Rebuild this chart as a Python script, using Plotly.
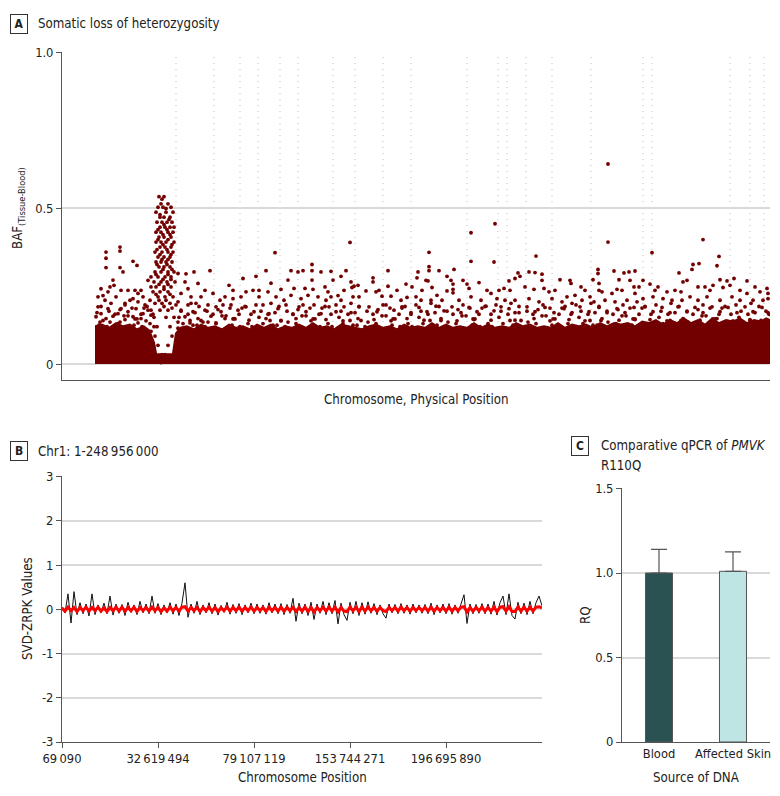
import plotly.graph_objects as go

# ---------------- Panel A data: BAF (Tissue - Blood) ----------------
# x: genomic marker index (arbitrary units along the genome), y: BAF difference
chrom_bounds = [114, 152, 178, 196, 218, 236, 271, 293, 321, 349, 405, 436, 445,
                464, 490, 529, 581, 590, 668, 688, 702]

# upper edge of the saturated band of points near zero
band_x = [33, 40, 47, 54, 61, 68, 75, 82, 88, 93, 95, 110, 113, 118, 125, 132, 139,
          146, 153, 160, 167, 174, 181, 188, 195, 202, 209, 216, 223, 230, 237, 244,
          251, 258, 265, 272, 279, 286, 293, 300, 307, 314, 321, 328, 335, 342, 349,
          356, 363, 370, 377, 384, 391, 398, 405, 412, 419, 426, 433, 440, 447, 454,
          461, 468, 475, 482, 489, 496, 503, 510, 517, 524, 531, 538, 545, 552, 559,
          566, 573, 580, 587, 594, 601, 608, 615, 622, 629, 636, 643, 650, 657, 664,
          671, 678, 685, 692, 699, 704, 708]
band_top = [0.125, 0.13, 0.12, 0.135, 0.125, 0.13, 0.115, 0.125, 0.11, 0.07, 0.035,
            0.035, 0.10, 0.12, 0.125, 0.115, 0.13, 0.12, 0.125, 0.115, 0.13, 0.12,
            0.125, 0.115, 0.13, 0.12, 0.13, 0.115, 0.125, 0.12, 0.13, 0.12, 0.135,
            0.12, 0.125, 0.115, 0.13, 0.125, 0.12, 0.115, 0.125, 0.13, 0.12, 0.125,
            0.115, 0.13, 0.12, 0.125, 0.12, 0.135, 0.12, 0.13, 0.12, 0.125, 0.12,
            0.135, 0.12, 0.13, 0.12, 0.125, 0.12, 0.135, 0.125, 0.13, 0.12, 0.125,
            0.12, 0.135, 0.12, 0.13, 0.125, 0.13, 0.12, 0.135, 0.125, 0.135, 0.13,
            0.135, 0.125, 0.14, 0.135, 0.145, 0.13, 0.145, 0.135, 0.15, 0.135, 0.145,
            0.13, 0.15, 0.135, 0.145, 0.14, 0.15, 0.135, 0.145, 0.14, 0.15, 0.145]

# loss-of-heterozygosity cluster on chromosome 1
loh_pts = [
    (97, 0.538), (102, 0.538), (106, 0.515), (99, 0.515), (109, 0.504), (101, 0.504),
    (96, 0.504), (104, 0.488), (111, 0.488), (94, 0.488), (98, 0.472), (108, 0.472),
    (102, 0.472), (95, 0.456), (100, 0.456), (105, 0.456), (110, 0.456), (98, 0.44),
    (103, 0.44), (108, 0.44), (112, 0.44), (94, 0.424), (99, 0.424), (106, 0.424),
    (111, 0.424), (97, 0.408), (102, 0.408), (109, 0.408), (94, 0.392), (99, 0.392),
    (104, 0.392), (112, 0.392), (98, 0.376), (103, 0.376), (109, 0.376), (93, 0.36),
    (100, 0.36), (106, 0.36), (111, 0.36), (96, 0.344), (102, 0.344), (108, 0.344),
    (94, 0.328), (99, 0.328), (104, 0.328), (110, 0.328), (97, 0.312), (102, 0.312),
    (108, 0.312), (93, 0.296), (99, 0.296), (106, 0.296), (112, 0.296), (89, 0.28),
    (96, 0.28), (103, 0.28), (109, 0.28), (92, 0.264), (99, 0.264), (105, 0.264),
    (113, 0.264), (94, 0.248), (102, 0.248), (109, 0.248), (91, 0.232), (98, 0.232),
    (106, 0.232), (96, 0.216), (103, 0.216), (111, 0.216), (93, 0.195), (100, 0.195),
    (108, 0.195), (89, 0.173), (98, 0.173), (106, 0.173), (92, 0.15), (104, 0.15),
    (112, 0.15), (95, 0.12), (108, 0.12), (93, 0.09), (110, 0.09), (96, 0.06),
    (106, 0.06), (100, 0.03), (103, 0.03), (98, 0.02), (105, 0.02), (97, 0.01),
    (101, 0.01), (104, 0.01), (99, 0.005),
    (100, 0.53), (104, 0.5), (98, 0.48), (107, 0.465), (102, 0.448), (96, 0.432),
    (105, 0.432), (101, 0.416), (108, 0.416), (96, 0.4), (106, 0.4), (101, 0.384),
    (110, 0.384), (95, 0.368), (105, 0.368), (98, 0.352), (109, 0.352), (100, 0.336),
    (106, 0.336), (95, 0.32), (105, 0.32), (101, 0.304), (110, 0.304), (94, 0.288),
    (106, 0.288), (101, 0.272), (109, 0.272), (97, 0.256), (106, 0.256), (102, 0.24),
    (94, 0.224), (108, 0.224), (97, 0.205), (104, 0.205), (102, 0.185), (110, 0.18),
]

# scattered points above the dense band across the genome
baf_pts = [
    (44, 0.36), (44, 0.34), (58, 0.376), (58, 0.363), (71, 0.33), (75, 0.317),
    (44, 0.31), (58, 0.31), (61, 0.296), (51, 0.27), (52, 0.253), (39, 0.242),
    (36, 0.216), (41, 0.22), (48, 0.248), (46, 0.232), (59, 0.237), (66, 0.237),
    (73, 0.237), (76, 0.227), (79, 0.237), (81, 0.216), (86, 0.269), (89, 0.248),
    (68, 0.205), (54, 0.216), (43, 0.205), (49, 0.195), (63, 0.195), (71, 0.21),
    (76, 0.2), (83, 0.19), (88, 0.205), (59, 0.178), (46, 0.178), (36, 0.184),
    (39, 0.162), (56, 0.162), (66, 0.168), (74, 0.178), (81, 0.162), (86, 0.173),
    (89, 0.157), (34, 0.152), (44, 0.146), (51, 0.154), (63, 0.143), (71, 0.152),
    (79, 0.146), (38, 0.135), (58, 0.135), (76, 0.132), (84, 0.139),
    (116, 0.291), (124, 0.29), (132, 0.296), (148, 0.30), (123, 0.264), (126, 0.242),
    (136, 0.259), (143, 0.237), (119, 0.227), (129, 0.216), (139, 0.216), (151, 0.227),
    (158, 0.205), (163, 0.216), (116, 0.2), (126, 0.19), (134, 0.195), (146, 0.19),
    (154, 0.184), (119, 0.173), (131, 0.168), (143, 0.173), (159, 0.168), (123, 0.152),
    (136, 0.146), (149, 0.154), (163, 0.146), (116, 0.135), (128, 0.132), (141, 0.135),
    (154, 0.132),
    (213, 0.358), (288, 0.391), (250, 0.32), (250, 0.30), (250, 0.27), (229, 0.30),
    (241, 0.30), (236, 0.296), (204, 0.30), (259, 0.296), (269, 0.298), (279, 0.282),
    (284, 0.30), (289, 0.264), (292, 0.25), (181, 0.275), (194, 0.282), (226, 0.27),
    (271, 0.27), (167, 0.253), (171, 0.237), (171, 0.21), (197, 0.237), (209, 0.26),
    (219, 0.24), (232, 0.243), (243, 0.243), (251, 0.24), (263, 0.248), (266, 0.232),
    (269, 0.216), (276, 0.22), (282, 0.237), (290, 0.246), (296, 0.253), (179, 0.216),
    (184, 0.232), (191, 0.237), (197, 0.216), (206, 0.232), (214, 0.216), (222, 0.205),
    (229, 0.221), (239, 0.21), (246, 0.221), (256, 0.216), (264, 0.205), (279, 0.205),
    (291, 0.216), (297, 0.216), (169, 0.19), (176, 0.173), (184, 0.184), (192, 0.168),
    (201, 0.19), (207, 0.162), (216, 0.178), (224, 0.19), (231, 0.16), (237, 0.184),
    (244, 0.168), (252, 0.19), (259, 0.162), (267, 0.184), (274, 0.168), (282, 0.184),
    (289, 0.165), (297, 0.184), (172, 0.146), (187, 0.141), (204, 0.146), (219, 0.139),
    (234, 0.146), (249, 0.139), (264, 0.143), (281, 0.139), (296, 0.146),
    (409, 0.422), (433, 0.451), (409, 0.33), (432, 0.328), (367, 0.359), (367, 0.313),
    (367, 0.30), (326, 0.30), (356, 0.296), (377, 0.30), (392, 0.304), (385, 0.282),
    (311, 0.277), (311, 0.264), (314, 0.232), (326, 0.25), (335, 0.237), (344, 0.257),
    (350, 0.248), (355, 0.277), (360, 0.237), (364, 0.269), (366, 0.267), (370, 0.246),
    (375, 0.221), (389, 0.269), (391, 0.257), (391, 0.24), (391, 0.229), (385, 0.235),
    (401, 0.269), (405, 0.257), (407, 0.243), (417, 0.262), (425, 0.237), (429, 0.227),
    (437, 0.237), (304, 0.235), (317, 0.237), (320, 0.218), (329, 0.218), (339, 0.205),
    (345, 0.214), (354, 0.216), (359, 0.205), (369, 0.205), (380, 0.205), (397, 0.205),
    (409, 0.216), (419, 0.205), (435, 0.21), (307, 0.184), (315, 0.168), (324, 0.19),
    (332, 0.173), (340, 0.184), (349, 0.165), (357, 0.182), (365, 0.168), (374, 0.186),
    (382, 0.171), (390, 0.184), (399, 0.165), (407, 0.182), (415, 0.168), (424, 0.186),
    (432, 0.171), (439, 0.184), (312, 0.143), (329, 0.139), (345, 0.146), (362, 0.141),
    (379, 0.146), (395, 0.139), (412, 0.143), (429, 0.141),
    (546, 0.643), (546, 0.392), (474, 0.347), (536, 0.304), (536, 0.291), (552, 0.299),
    (456, 0.293), (467, 0.296), (473, 0.294), (480, 0.289), (480, 0.269), (447, 0.267),
    (453, 0.275), (458, 0.282), (498, 0.271), (508, 0.269), (509, 0.259), (519, 0.248),
    (531, 0.271), (537, 0.259), (537, 0.237), (557, 0.271), (562, 0.293), (567, 0.296),
    (573, 0.299), (568, 0.269), (572, 0.248), (577, 0.248), (442, 0.243), (448, 0.237),
    (463, 0.248), (472, 0.24), (482, 0.243), (487, 0.232), (493, 0.237), (505, 0.216),
    (513, 0.221), (523, 0.237), (528, 0.216), (540, 0.232), (550, 0.227), (555, 0.24),
    (560, 0.237), (573, 0.227), (443, 0.205), (453, 0.205), (467, 0.21), (477, 0.2),
    (490, 0.21), (500, 0.2), (510, 0.195), (520, 0.205), (532, 0.2), (543, 0.205),
    (553, 0.2), (565, 0.205), (575, 0.2), (447, 0.178), (457, 0.165), (465, 0.184),
    (473, 0.168), (483, 0.182), (492, 0.165), (502, 0.178), (510, 0.165), (518, 0.184),
    (527, 0.168), (537, 0.182), (545, 0.165), (555, 0.178), (563, 0.165), (572, 0.182),
    (453, 0.141), (472, 0.146), (488, 0.139), (507, 0.143), (523, 0.139), (540, 0.146),
    (557, 0.141), (573, 0.143),
    (641, 0.40), (590, 0.358), (657, 0.346), (631, 0.32), (637, 0.323), (630, 0.304),
    (655, 0.316), (617, 0.293), (625, 0.269), (621, 0.264), (581, 0.269), (588, 0.257),
    (596, 0.248), (593, 0.237), (658, 0.271), (665, 0.267), (672, 0.275), (668, 0.253),
    (661, 0.246), (685, 0.267), (693, 0.248), (705, 0.243), (706, 0.227), (605, 0.232),
    (613, 0.237), (619, 0.232), (636, 0.248), (643, 0.248), (648, 0.237), (651, 0.253),
    (678, 0.237), (685, 0.227), (698, 0.232), (581, 0.21), (591, 0.216), (601, 0.21),
    (610, 0.205), (620, 0.205), (628, 0.216), (636, 0.205), (645, 0.216), (658, 0.205),
    (670, 0.216), (678, 0.205), (691, 0.205), (701, 0.205), (706, 0.21), (583, 0.184),
    (591, 0.168), (600, 0.182), (608, 0.165), (616, 0.184), (625, 0.168), (633, 0.182),
    (641, 0.165), (650, 0.184), (658, 0.168), (666, 0.182), (675, 0.165), (683, 0.184),
    (691, 0.168), (700, 0.182), (706, 0.165), (588, 0.143), (605, 0.139), (621, 0.146),
    (638, 0.141), (655, 0.146), (671, 0.139), (688, 0.143), (705, 0.141),
]

# medium-density points just above the saturated band
baf_mid = [
    (35, 0.165), (37, 0.125), (39, 0.185), (41, 0.14), (43, 0.11),
    (45, 0.12), (47, 0.17), (48, 0.135), (51, 0.105), (53, 0.16),
    (56, 0.13), (58, 0.175), (60, 0.105), (62, 0.155), (63, 0.19),
    (66, 0.155), (67, 0.11), (70, 0.18), (72, 0.125), (73, 0.145),
    (75, 0.145), (77, 0.10), (79, 0.16), (80, 0.12), (82, 0.18),
    (85, 0.185), (88, 0.13), (89, 0.105), (91, 0.16), (92, 0.12),
    (114, 0.19), (116, 0.115), (117, 0.15), (119, 0.17), (121, 0.13),
    (124, 0.11), (126, 0.16), (128, 0.14), (129, 0.195), (131, 0.125),
    (133, 0.165), (135, 0.125), (137, 0.185), (139, 0.14), (141, 0.11),
    (143, 0.12), (145, 0.17), (146, 0.135), (149, 0.105), (151, 0.16),
    (154, 0.13), (156, 0.175), (158, 0.105), (160, 0.155), (161, 0.19),
    (164, 0.155), (165, 0.11), (168, 0.18), (170, 0.125), (171, 0.145),
    (173, 0.145), (175, 0.10), (177, 0.16), (178, 0.12), (180, 0.18),
    (183, 0.185), (186, 0.13), (187, 0.105), (189, 0.16), (190, 0.12),
    (194, 0.19), (196, 0.115), (197, 0.15), (199, 0.17), (201, 0.13),
    (204, 0.11), (206, 0.16), (208, 0.14), (209, 0.195), (211, 0.125),
    (213, 0.165), (215, 0.125), (217, 0.185), (219, 0.14), (221, 0.11),
    (223, 0.12), (225, 0.17), (226, 0.135), (229, 0.105), (231, 0.16),
    (234, 0.13), (236, 0.175), (238, 0.105), (240, 0.155), (241, 0.19),
    (244, 0.155), (245, 0.11), (248, 0.18), (250, 0.125), (251, 0.145),
    (253, 0.145), (255, 0.10), (257, 0.16), (258, 0.12), (260, 0.18),
    (263, 0.185), (266, 0.13), (267, 0.105), (269, 0.16), (270, 0.12),
    (274, 0.19), (276, 0.115), (277, 0.15), (279, 0.17), (281, 0.13),
    (284, 0.11), (286, 0.16), (288, 0.14), (289, 0.195), (291, 0.125),
    (293, 0.165), (295, 0.125), (297, 0.185), (299, 0.14), (301, 0.11),
    (303, 0.12), (305, 0.17), (306, 0.135), (309, 0.105), (311, 0.16),
    (314, 0.13), (316, 0.175), (318, 0.105), (320, 0.155), (321, 0.19),
    (324, 0.155), (325, 0.11), (328, 0.18), (330, 0.125), (331, 0.145),
    (333, 0.145), (335, 0.10), (337, 0.16), (338, 0.12), (340, 0.18),
    (343, 0.185), (346, 0.13), (347, 0.105), (349, 0.16), (350, 0.12),
    (354, 0.19), (356, 0.115), (357, 0.15), (359, 0.17), (361, 0.13),
    (364, 0.11), (366, 0.16), (368, 0.14), (369, 0.195), (371, 0.125),
    (373, 0.165), (375, 0.125), (377, 0.185), (379, 0.14), (381, 0.11),
    (383, 0.12), (385, 0.17), (386, 0.135), (389, 0.105), (391, 0.16),
    (394, 0.13), (396, 0.175), (398, 0.105), (400, 0.155), (401, 0.19),
    (404, 0.155), (405, 0.11), (408, 0.18), (410, 0.125), (411, 0.145),
    (413, 0.145), (415, 0.10), (417, 0.16), (418, 0.12), (420, 0.18),
    (423, 0.185), (426, 0.13), (427, 0.105), (429, 0.16), (430, 0.12),
    (434, 0.19), (436, 0.115), (437, 0.15), (439, 0.17), (441, 0.13),
    (444, 0.11), (446, 0.16), (448, 0.14), (449, 0.195), (451, 0.125),
    (453, 0.165), (455, 0.125), (457, 0.185), (459, 0.14), (461, 0.11),
    (463, 0.12), (465, 0.17), (466, 0.135), (469, 0.105), (471, 0.16),
    (474, 0.13), (476, 0.175), (478, 0.105), (480, 0.155), (481, 0.19),
    (484, 0.155), (485, 0.11), (488, 0.18), (490, 0.125), (491, 0.145),
    (493, 0.145), (495, 0.10), (497, 0.16), (498, 0.12), (500, 0.18),
    (503, 0.185), (506, 0.13), (507, 0.105), (509, 0.16), (510, 0.12),
    (514, 0.19), (516, 0.115), (517, 0.15), (519, 0.17), (521, 0.13),
    (524, 0.11), (526, 0.16), (528, 0.14), (529, 0.195), (531, 0.125),
    (533, 0.165), (535, 0.125), (537, 0.185), (539, 0.14), (541, 0.11),
    (543, 0.12), (545, 0.17), (546, 0.135), (549, 0.105), (551, 0.16),
    (554, 0.13), (556, 0.175), (558, 0.105), (560, 0.155), (561, 0.19),
    (564, 0.155), (565, 0.11), (568, 0.18), (570, 0.125), (571, 0.145),
    (573, 0.145), (575, 0.10), (577, 0.16), (578, 0.12), (580, 0.18),
    (583, 0.185), (586, 0.13), (587, 0.105), (589, 0.16), (590, 0.12),
    (594, 0.19), (596, 0.115), (597, 0.15), (599, 0.17), (601, 0.13),
    (604, 0.11), (606, 0.16), (608, 0.14), (609, 0.195), (611, 0.125),
    (613, 0.165), (615, 0.125), (617, 0.185), (619, 0.14), (621, 0.11),
    (623, 0.12), (625, 0.17), (626, 0.135), (629, 0.105), (631, 0.16),
    (634, 0.13), (636, 0.175), (638, 0.105), (640, 0.155), (641, 0.19),
    (644, 0.155), (645, 0.11), (648, 0.18), (650, 0.125), (651, 0.145),
    (653, 0.145), (655, 0.10), (657, 0.16), (658, 0.12), (660, 0.18),
    (663, 0.185), (666, 0.13), (667, 0.105), (669, 0.16), (670, 0.12),
    (674, 0.19), (676, 0.115), (677, 0.15), (679, 0.17), (681, 0.13),
    (684, 0.11), (686, 0.16), (688, 0.14), (689, 0.195), (691, 0.125),
    (693, 0.165), (695, 0.125), (697, 0.185), (699, 0.14), (701, 0.11),
    (702, 0.12), (704, 0.17), (705, 0.135), (706, 0.105), (707, 0.16),
]

# ---------------- Panel B data: SVD-ZRPK along chromosome 1 ----------------
zrpk_black = [
    0.05, -0.08, 0.35, -0.31, 0.40, -0.12, 0.15, -0.10, 0.12, -0.15,
    0.35, -0.12, 0.10, -0.08, 0.14, -0.10, 0.30, -0.13, 0.12, -0.09,
    0.11, -0.14, 0.16, -0.07, 0.10, -0.12, 0.18, -0.08, 0.12, -0.10,
    0.30, -0.09, 0.13, -0.12, 0.10, -0.08, 0.15, -0.11, 0.12, -0.14,
    0.14, 0.60, -0.18, 0.12, -0.09, 0.18, -0.12, 0.10, -0.08, 0.15,
    -0.10, 0.12, -0.13, 0.09, -0.07, 0.16, -0.11, 0.11, -0.09, 0.13,
    -0.12, 0.10, -0.08, 0.14, -0.10, 0.12, -0.09, 0.10, -0.11, 0.15,
    -0.08, 0.12, -0.10, 0.13, -0.12, 0.11, -0.09, 0.25, -0.27, 0.14,
    -0.10, 0.12, -0.14, 0.16, -0.23, 0.12, -0.09, 0.18, -0.12, 0.15,
    -0.10, 0.20, -0.33, 0.14, -0.12, -0.25, 0.16, -0.10, 0.18, -0.14,
    0.15, -0.11, 0.17, -0.09, 0.13, -0.12, 0.10, -0.10, -0.20, 0.12,
    -0.08, 0.11, -0.10, 0.13, -0.09, 0.10, -0.11, 0.12, -0.08, 0.10,
    -0.09, 0.11, -0.10, 0.14, -0.12, 0.10, -0.08, 0.12, -0.10, 0.13,
    -0.11, 0.10, -0.09, 0.15, 0.33, -0.32, 0.12, -0.10, 0.11, -0.09,
    0.13, -0.10, 0.12, -0.11, 0.18, -0.13, 0.15, 0.30, -0.12, 0.35,
    -0.14, -0.22, 0.16, -0.10, 0.14, -0.12, 0.18, -0.10, 0.15, 0.30, 0.08,
]
zrpk_red = [
    0.03, -0.04, 0.05, -0.03, 0.04, -0.05, 0.04, -0.03, 0.05, -0.04,
    0.04, -0.03, 0.05, -0.04, 0.03, -0.05, 0.04, -0.03, 0.05, -0.04,
    0.05, -0.04, 0.04, -0.03, 0.05, -0.05, 0.04, -0.03, 0.04, -0.04,
    0.05, -0.03, 0.04, -0.05, 0.03, -0.04, 0.05, -0.03, 0.04, -0.04,
    0.05, 0.06, -0.04, 0.04, -0.03, 0.05, -0.05, 0.04, -0.03, 0.05,
    -0.04, 0.04, -0.05, 0.03, -0.03, 0.05, -0.04, 0.04, -0.03, 0.05,
    -0.04, 0.04, -0.03, 0.05, -0.04, 0.04, -0.03, 0.04, -0.05, 0.05,
    -0.03, 0.04, -0.04, 0.05, -0.04, 0.04, -0.03, 0.05, -0.05, 0.04,
    -0.04, 0.05, -0.05, 0.04, -0.06, 0.04, -0.03, 0.05, -0.04, 0.05,
    -0.04, 0.05, -0.06, 0.04, -0.04, -0.05, 0.05, -0.03, 0.05, -0.05,
    0.05, -0.04, 0.05, -0.03, 0.04, -0.04, 0.04, -0.03, -0.05, 0.04,
    -0.03, 0.04, -0.04, 0.05, -0.03, 0.04, -0.04, 0.04, -0.03, 0.04,
    -0.03, 0.04, -0.04, 0.05, -0.04, 0.04, -0.03, 0.04, -0.04, 0.05,
    -0.04, 0.04, -0.03, 0.05, 0.06, -0.06, 0.04, -0.04, 0.04, -0.03,
    0.05, -0.04, 0.04, -0.04, 0.05, -0.05, 0.05, 0.06, -0.04, 0.06,
    -0.05, -0.05, 0.05, -0.04, 0.05, -0.04, 0.05, -0.04, 0.05, 0.06, 0.03,
]
zrpk_tickvals = [0, 32, 64, 96, 128]
zrpk_ticktext = ["69\u2009090", "32\u2009619\u2009494", "79\u2009107\u2009119",
                 "153\u2009744\u2009271", "196\u2009695\u2009890"]

# ---------------- Panel C data: qPCR RQ ----------------
dna_sources = ["Blood", "Affected Skin"]
rq_values = [1.00, 1.01]
rq_err_up = [0.14, 0.115]

# ---------------- figure ----------------
# the page body adds an 8 px margin, so the figure is laid out 8 px in
OFF = 8
W, H = 780 - OFF, 796 - OFF
FONT = "Liberation Sans Narrow, DejaVu Sans Condensed, Open Sans, sans-serif"
TXT = "#222222"
AX = "#555555"
GRID = "#d9d9d9"
DOT = "#730000"


def fx(px):
    return (px - OFF) / W


def fy(py):
    return 1 - (py - OFF) / H


fig = go.Figure()

fig.add_trace(go.Scatter(x=band_x, y=band_top, mode="lines", fill="tozeroy",
                         line=dict(width=0, color=DOT), fillcolor=DOT,
                         xaxis="x", yaxis="y", hoverinfo="skip"))
all_pts = baf_mid + baf_pts + loh_pts
fig.add_trace(go.Scatter(x=[p[0] for p in all_pts], y=[p[1] for p in all_pts],
                         mode="markers", marker=dict(size=3.8, color=DOT),
                         xaxis="x", yaxis="y"))

bins = list(range(len(zrpk_black)))
fig.add_trace(go.Scatter(x=bins, y=zrpk_black, mode="lines",
                         line=dict(color="#111111", width=1),
                         xaxis="x2", yaxis="y2"))
fig.add_trace(go.Scatter(x=bins, y=zrpk_red, mode="lines",
                         line=dict(color="#ff0000", width=3),
                         xaxis="x2", yaxis="y2"))

fig.add_trace(go.Bar(x=dna_sources, y=rq_values, width=0.365,
                     marker=dict(color=["#2a5252", "#bfe4e4"],
                                 line=dict(color="#555555", width=1)),
                     error_y=dict(type="data", symmetric=False, array=rq_err_up,
                                  arrayminus=[0, 0], color="#555555",
                                  thickness=1.2, width=8),
                     xaxis="x3", yaxis="y3"))

shapes = []
for b in chrom_bounds:
    shapes.append(dict(type="line", xref="x", yref="y", x0=b, x1=b, y0=0, y1=1.0,
                       line=dict(color="#bdbdbd", width=1, dash="1px,5px"),
                       layer="below"))

ann = []


def label_box(letter, px, py):
    ann.append(dict(text="<b>%s</b>" % letter, x=fx(px), y=fy(py), xref="paper",
                    yref="paper", xanchor="center", yanchor="middle", showarrow=False,
                    font=dict(size=12, color=TXT, family=FONT),
                    bordercolor="#333333", borderwidth=1, borderpad=2,
                    width=12, height=14))


def text(t, px, py, size=13.2, xanchor="left", angle=0):
    ann.append(dict(text=t, x=fx(px), y=fy(py), xref="paper", yref="paper",
                    xanchor=xanchor, yanchor="middle", showarrow=False, textangle=angle,
                    font=dict(size=size, color=TXT, family=FONT)))


label_box("A", 19, 24)
text("Somatic loss of heterozygosity", 36, 24)
text("Chromosome, Physical Position", 416, 399, xanchor="center")
text("BAF<sub>(Tissue-Blood)</sub>", 18, 208, xanchor="center", angle=-90)

label_box("B", 19, 451)
text("Chr1: 1-248\u2009956\u2009000", 36, 451)
text("SVD-ZRPK Values", 27, 609, xanchor="center", angle=-90)
text("Chromosome Position", 302, 777, xanchor="center")

label_box("C", 580, 446)
text("Comparative qPCR of <i>PMVK</i>", 599, 446)
text("R110Q", 599, 465)
text("RQ", 585, 615, xanchor="center", angle=-90)
text("Source of DNA", 696, 777, xanchor="center")

axis_common = dict(showline=True, linecolor=AX, linewidth=1, zeroline=False,
                   automargin=False,
                   tickfont=dict(size=12.8, color=TXT, family=FONT), tickcolor=AX)

fig.update_layout(
    width=W, height=H, margin=dict(l=0, r=0, t=0, b=0, autoexpand=False),
    paper_bgcolor="white", plot_bgcolor="white", showlegend=False,
    font=dict(family=FONT, color=TXT),
    shapes=shapes, annotations=ann,
    xaxis=dict(domain=[fx(62), fx(770)], range=[0, 708], showticklabels=False,
               ticks="", showgrid=False, anchor="y", **axis_common),
    yaxis=dict(domain=[fy(380), fy(52)], range=[-0.0513, 1.003],
               tickvals=[0, 0.5, 1.0], ticktext=["0", "0.5", "1.0"], ticks="outside",
               ticklen=5, showgrid=True, gridcolor=GRID, gridwidth=1.5, anchor="x",
               **axis_common),
    xaxis2=dict(domain=[fx(62), fx(542)], range=[0, 160], tickvals=zrpk_tickvals,
                ticktext=zrpk_ticktext, ticks="outside", ticklen=5, showgrid=False,
                anchor="y2", **axis_common),
    yaxis2=dict(domain=[fy(742), fy(476)], range=[-3, 3.015],
                tickvals=[-3, -2, -1, 0, 1, 2, 3],
                ticktext=["-3", "-2", "-1", "0", "1", "2", "3"], ticks="outside",
                ticklen=5, showgrid=True, gridcolor=GRID, gridwidth=1.5, anchor="x2",
                **axis_common),
    xaxis3=dict(domain=[fx(622), fx(770)], range=[-0.5, 1.5], type="category",
                ticks="", showgrid=False, anchor="y3", **axis_common),
    yaxis3=dict(domain=[fy(742), fy(488)], range=[0, 1.503],
                tickvals=[0, 0.5, 1.0, 1.5], ticktext=["0", "0.5", "1.0", "1.5"],
                ticks="outside", ticklen=5, showgrid=True, gridcolor=GRID,
                gridwidth=1.5, anchor="x3", **axis_common),
)

fig.write_html("out.html")
